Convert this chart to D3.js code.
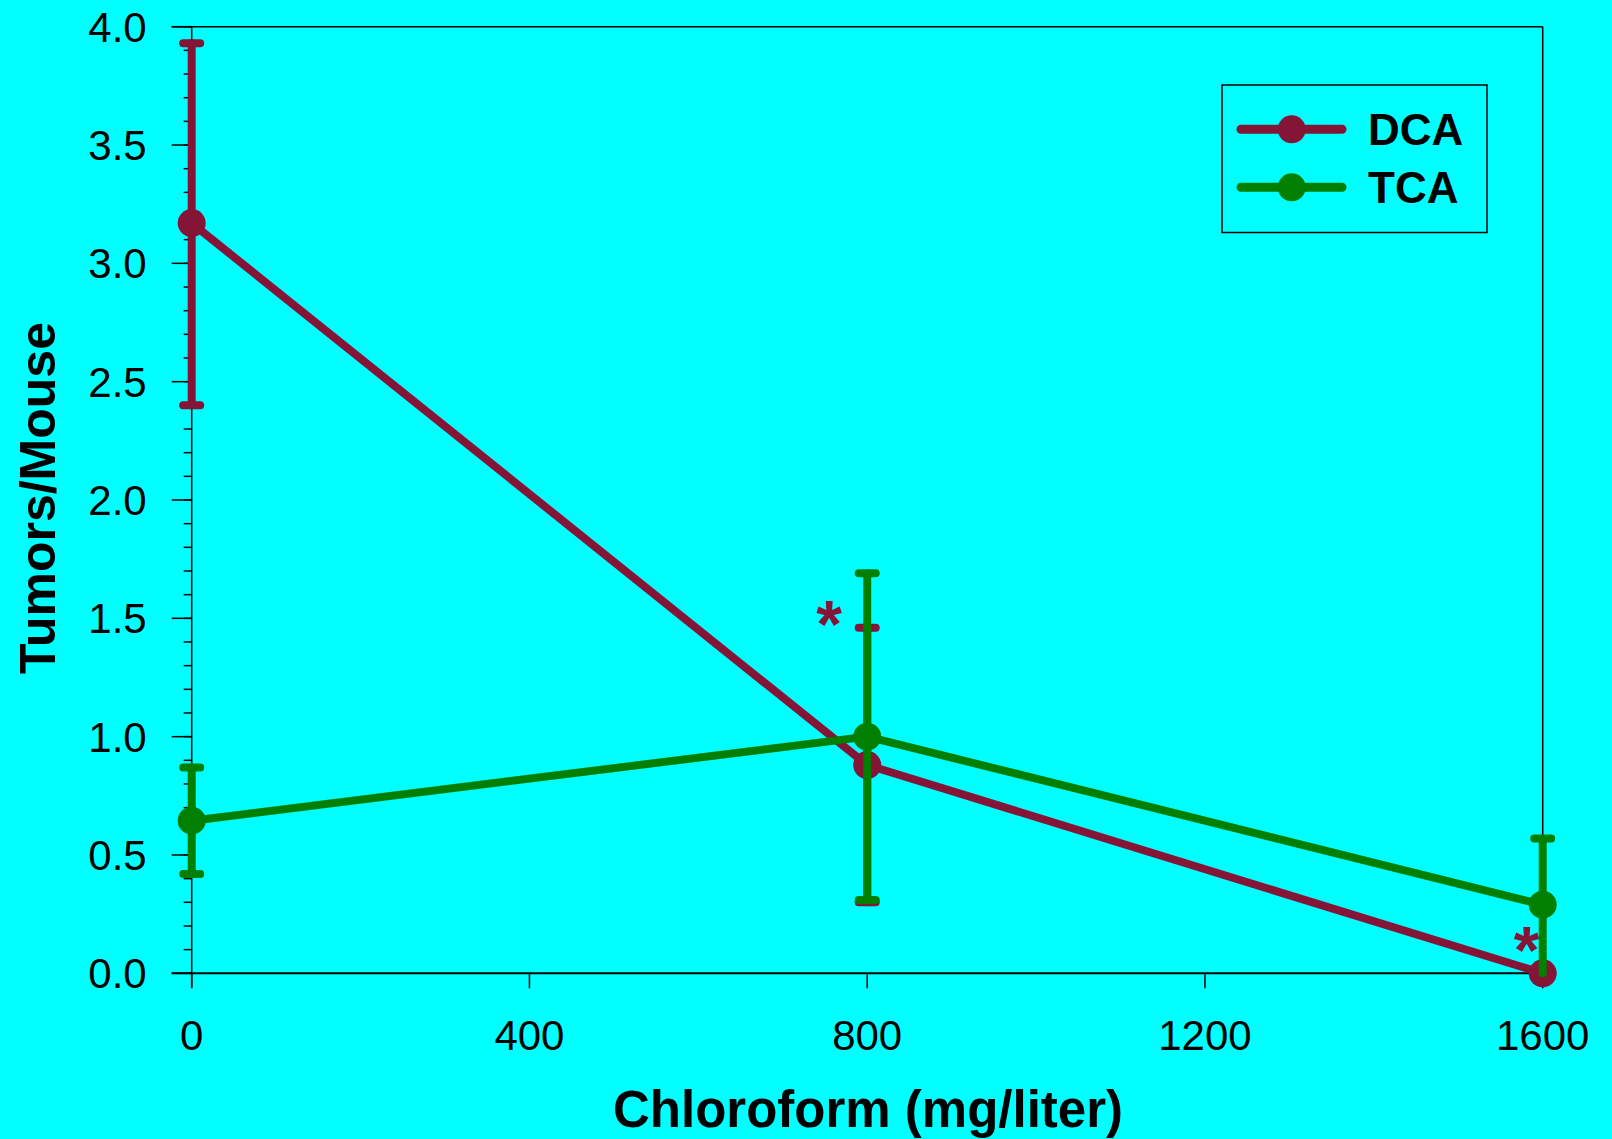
<!DOCTYPE html>
<html><head><meta charset="utf-8">
<script src="https://cdn.jsdelivr.net/npm/d3@7/dist/d3.min.js"></script>
<style>
html,body{margin:0;padding:0;background:#00ffff;}
svg{display:block;font-family:Arial,"Liberation Sans",Helvetica,sans-serif;}
</style></head>
<body>
<svg id="chart" width="1612" height="1139"></svg>
<script>
const doses = [0, 800, 1600];
const xTicks = [0, 400, 800, 1200, 1600];
const yTicks = [0, 0.5, 1.0, 1.5, 2.0, 2.5, 3.0, 3.5, 4.0];
const seriesNames = ["DCA", "TCA"];
const seriesColors = ["#841537", "#007f00"];
const dcaMean = [3.17, 0.88, 0.0];
const dcaLow  = [2.40, 0.30, null];
const dcaHigh = [3.93, 1.46, null];
const tcaMean = [0.645, 1.0, 0.29];
const tcaLow  = [0.42, 0.31, 0.0];
const tcaHigh = [0.87, 1.69, 0.57];
const asterisks = [{dose: 800, value: 1.59, dx: -38}, {dose: 1600, value: 0.21, dx: -16}];

const series = [
  {name: seriesNames[0], color: seriesColors[0], mean: dcaMean, low: dcaLow, high: dcaHigh},
  {name: seriesNames[1], color: seriesColors[1], mean: tcaMean, low: tcaLow, high: tcaHigh}
];

const svg = d3.select("#chart");
const pLeft = 191.7, pRight = 1542.7, pTop = 26.7, pBottom = 973.3;
const x = d3.scaleLinear().domain([0, 1600]).range([pLeft, pRight]);
const y = d3.scaleLinear().domain([0, 4]).range([pBottom, pTop]);

svg.append("rect").attr("width", 1612).attr("height", 1139).attr("fill", "#00ffff");

// frame
svg.append("line").attr("x1", pLeft - 20).attr("x2", pRight).attr("y1", pTop).attr("y2", pTop)
  .attr("stroke", "#000").attr("stroke-width", 1.5);
svg.append("line").attr("x1", pRight).attr("x2", pRight).attr("y1", pTop).attr("y2", pBottom)
  .attr("stroke", "#000").attr("stroke-width", 1.5);

// y axis
const yAxis = svg.append("g");
yAxis.append("line").attr("x1", pLeft).attr("x2", pLeft).attr("y1", pTop).attr("y2", pBottom + 14)
  .attr("stroke", "#000").attr("stroke-width", 1.5);
const minor = d3.range(0, 41).map(d => d / 10);
yAxis.selectAll(".minor").data(minor).join("line")
  .attr("x1", pLeft - 8).attr("x2", pLeft).attr("y1", d => y(d)).attr("y2", d => y(d))
  .attr("stroke", "#000").attr("stroke-width", 1.5);
yAxis.selectAll(".major").data(yTicks).join("line")
  .attr("x1", pLeft - 20).attr("x2", pLeft).attr("y1", d => y(d)).attr("y2", d => y(d))
  .attr("stroke", "#000").attr("stroke-width", 1.5);
yAxis.selectAll("text").data(yTicks).join("text")
  .attr("x", pLeft - 45).attr("y", d => y(d)).attr("dy", "0.36em")
  .attr("text-anchor", "end").attr("font-size", 42).text(d => d.toFixed(1));

// x axis
const xAxis = svg.append("g");
xAxis.append("line").attr("x1", pLeft - 20).attr("x2", pRight).attr("y1", pBottom).attr("y2", pBottom)
  .attr("stroke", "#000").attr("stroke-width", 2);
xAxis.selectAll(".tick").data(xTicks).join("line")
  .attr("x1", d => x(d)).attr("x2", d => x(d)).attr("y1", pBottom).attr("y2", pBottom + 15)
  .attr("stroke", "#000").attr("stroke-width", 1.5);
xAxis.selectAll("text").data(xTicks).join("text")
  .attr("x", d => x(d)).attr("y", 1050).attr("text-anchor", "middle")
  .attr("font-size", 42).text(d => d);

// axis titles
svg.append("text").attr("x", 868).attr("y", 1127).attr("text-anchor", "middle")
  .attr("font-size", 51).attr("font-weight", "bold").text("Chloroform (mg/liter)");
svg.append("text").attr("transform", "translate(55,498) rotate(-90)").attr("text-anchor", "middle")
  .attr("font-size", 50).attr("font-weight", "bold").text("Tumors/Mouse");

// series
const line = d3.line().x(d => x(d.dose)).y(d => y(d.v));
series.forEach(s => {
  const g = svg.append("g");
  const pts = doses.map((d, i) => ({dose: d, v: s.mean[i], lo: s.low[i], hi: s.high[i]}));
  g.append("path").datum(pts).attr("d", line).attr("fill", "none")
    .attr("stroke", s.color).attr("stroke-width", 8).attr("stroke-linejoin", "round");
  const eb = pts.filter(p => p.lo !== null);
  g.selectAll(".eb").data(eb).join("line")
    .attr("x1", d => x(d.dose)).attr("x2", d => x(d.dose))
    .attr("y1", d => y(d.lo)).attr("y2", d => y(d.hi))
    .attr("stroke", s.color).attr("stroke-width", 8).attr("stroke-linecap", "round");
  const caps = [];
  eb.forEach(p => { caps.push({dose: p.dose, v: p.hi}); if (p.lo > 0.01) caps.push({dose: p.dose, v: p.lo}); });
  g.selectAll(".cap").data(caps).join("line")
    .attr("x1", d => x(d.dose) - 8.5).attr("x2", d => x(d.dose) + 8.5)
    .attr("y1", d => y(d.v)).attr("y2", d => y(d.v))
    .attr("stroke", s.color).attr("stroke-width", 8).attr("stroke-linecap", "round");
  g.selectAll("circle").data(pts).join("circle")
    .attr("cx", d => x(d.dose)).attr("cy", d => y(d.v)).attr("r", 14).attr("fill", s.color);
  if (s.name === "DCA") {
    g.selectAll(".ast").data(asterisks).join("text")
      .attr("x", d => x(d.dose) + d.dx).attr("y", d => y(d.value)).attr("dy", "0.75em")
      .attr("text-anchor", "middle").attr("font-size", 66).attr("font-weight", "bold")
      .attr("fill", s.color).text("*");
  }
});

// legend
const lg = svg.append("g");
lg.append("rect").attr("x", 1222).attr("y", 85).attr("width", 265).attr("height", 147.5)
  .attr("fill", "none").attr("stroke", "#000").attr("stroke-width", 1.5);
series.forEach((s, i) => {
  const ly = 129.3 + i * 58;
  lg.append("line").attr("x1", 1241).attr("x2", 1342).attr("y1", ly).attr("y2", ly)
    .attr("stroke", s.color).attr("stroke-width", 9).attr("stroke-linecap", "round");
  lg.append("circle").attr("cx", 1291.7).attr("cy", ly).attr("r", 14).attr("fill", s.color);
  lg.append("text").attr("x", 1368).attr("y", ly + 16).attr("font-size", 44)
    .attr("font-weight", "bold").text(s.name);
});
</script>
</body></html>
